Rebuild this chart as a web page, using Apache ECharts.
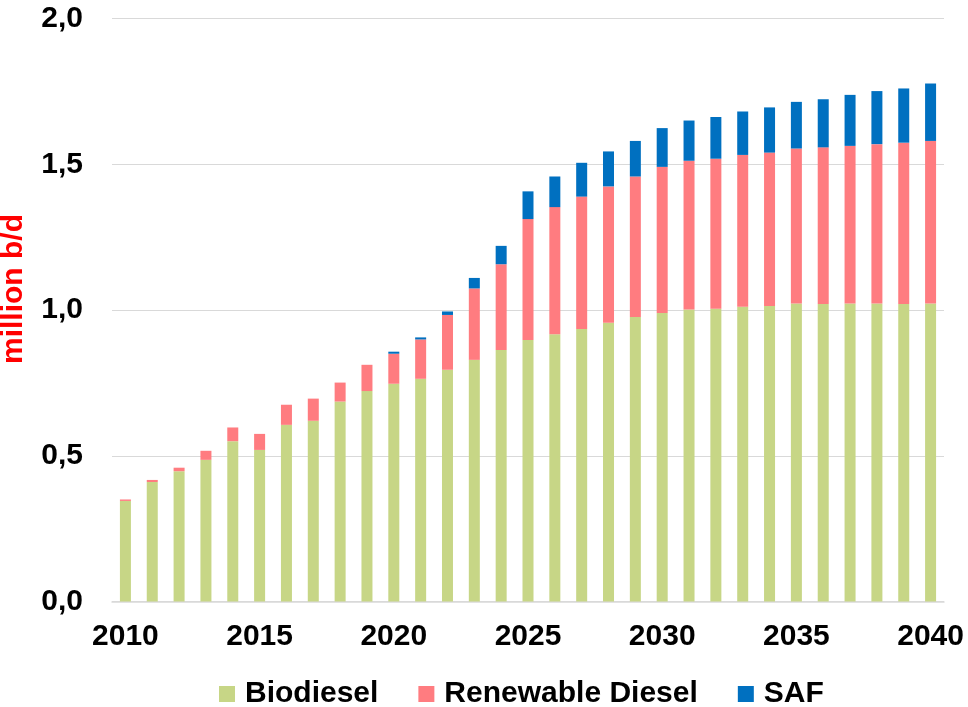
<!DOCTYPE html>
<html>
<head>
<meta charset="utf-8">
<script src="https://cdn.jsdelivr.net/npm/echarts@6/dist/echarts.min.js"></script>
<style>html,body{margin:0;padding:0;background:#fff}#c{width:968px;height:707px}</style>
</head>
<body>
<div id="c"></div>
<script>
const years = [2010,2011,2012,2013,2014,2015,2016,2017,2018,2019,2020,2021,2022,2023,2024,2025,2026,2027,2028,2029,2030,2031,2032,2033,2034,2035,2036,2037,2038,2039,2040].map(String);
const biodiesel = [0.345,0.41,0.447,0.486,0.55,0.52,0.606,0.62,0.686,0.722,0.747,0.764,0.795,0.829,0.863,0.897,0.917,0.935,0.956,0.976,0.99,1.002,1.004,1.011,1.014,1.022,1.021,1.022,1.022,1.021,1.022];
const renewableDiesel = [0.005,0.007,0.012,0.031,0.047,0.055,0.069,0.076,0.065,0.09,0.103,0.135,0.188,0.245,0.294,0.415,0.436,0.454,0.468,0.482,0.501,0.51,0.515,0.521,0.526,0.532,0.537,0.541,0.547,0.553,0.558];
const saf = [0,0,0,0,0,0,0,0,0,0,0.007,0.007,0.012,0.036,0.063,0.095,0.105,0.116,0.12,0.122,0.133,0.138,0.143,0.149,0.155,0.16,0.165,0.175,0.182,0.186,0.197];
const yTicks = [0, 0.5, 1.0, 1.5, 2.0];

const font = '"Liberation Sans", Arial, sans-serif';
const chart = echarts.init(document.getElementById('c'));
chart.setOption({
  animation: false,
  textStyle: { fontFamily: font },
  grid: { left: 112, right: 24, top: 18.5, bottom: 105.5, containLabel: false, outerBoundsMode: 'none' },
  legend: {
    left: 214, top: 674,
    itemWidth: 16, itemHeight: 16, itemGap: 40,
    icon: 'rect',
    textStyle: { fontSize: 30, fontWeight: 'bold', color: '#000', fontFamily: font, padding: [0,0,0,5] },
    data: ['Biodiesel', 'Renewable Diesel', 'SAF']
  },
  xAxis: {
    type: 'category',
    data: years,
    axisLine: { show: true, lineStyle: { color: '#d9d9d9', width: 1.5 } },
    axisTick: { show: false },
    axisLabel: {
      interval: (i) => i % 5 === 0,
      margin: 20,
      fontSize: 30, fontWeight: 'bold', color: '#000', fontFamily: font
    }
  },
  yAxis: {
    type: 'value',
    min: yTicks[0], max: yTicks[yTicks.length - 1], interval: 0.5,
    name: 'million b/d',
    nameLocation: 'middle',
    nameGap: 83,
    nameRotate: 90,
    nameTextStyle: { fontSize: 30, fontWeight: 'bold', color: '#ff0000', fontFamily: font, padding: [0,0,0,42] },
    axisLine: { show: false },
    axisTick: { show: false },
    splitLine: { lineStyle: { color: '#d9d9d9', width: 1 } },
    axisLabel: {
      margin: 29,
      fontSize: 30, fontWeight: 'bold', color: '#000', fontFamily: font,
      formatter: (v) => v.toFixed(1).replace('.', ',')
    }
  },
  series: [
    { name: 'Biodiesel', type: 'bar', stack: 't', barWidth: 11, data: biodiesel, itemStyle: { color: '#C7D686' } },
    { name: 'Renewable Diesel', type: 'bar', stack: 't', barWidth: 11, data: renewableDiesel, itemStyle: { color: '#FF7C80' } },
    { name: 'SAF', type: 'bar', stack: 't', barWidth: 11, data: saf, itemStyle: { color: '#0070C0' } }
  ]
});
</script>
</body>
</html>
